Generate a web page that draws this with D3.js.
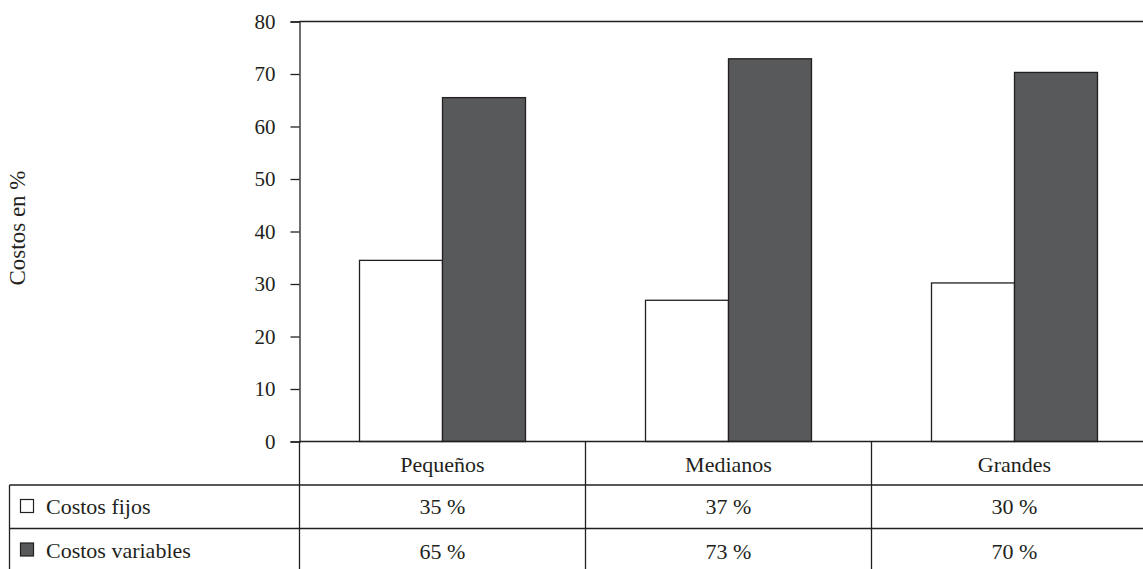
<!DOCTYPE html>
<html>
<head>
<meta charset="utf-8">
<script src="https://cdn.jsdelivr.net/npm/d3@7"></script>
<style>
  body { margin: 0; background: #fff; overflow: hidden; }
  svg text { font-family: "Liberation Serif", "DejaVu Serif", serif; fill: #231f20; }
</style>
</head>
<body>
<div id="chart"></div>
<script>
// data
var categories = ["Pequeños", "Medianos", "Grandes"];
var seriesNames = ["Costos fijos", "Costos variables"];
var costosFijos = [34.5, 26.9, 30.2];
var costosVariables = [65.5, 72.9, 70.3];
var tablaFijos = ["35 %", "37 %", "30 %"];
var tablaVariables = ["65 %", "73 %", "70 %"];
var yTicks = [0, 10, 20, 30, 40, 50, 60, 70, 80];

var width = 1143, height = 569;
var ink = "#231f20", darkFill = "#58595b";

var svg = d3.select("#chart")
    .append("svg")
    .attr("width", width)
    .attr("height", height);

var plotLeft = 299.5, colWidth = 286;
var plotTop = 21.5, plotBottom = 441.5;
var rowH = 43.5;

var x0 = d3.scaleBand()
    .domain(categories)
    .range([plotLeft, plotLeft + colWidth * categories.length]);

var x1 = d3.scaleBand()
    .domain(seriesNames)
    .range([0, x0.bandwidth()])
    .paddingOuter(0.723);

var y = d3.scaleLinear()
    .domain([0, 80])
    .range([plotBottom, plotTop]);

// bars
var rows = categories.map(function (c, i) {
    return { cat: c, values: [costosFijos[i], costosVariables[i]] };
});

var groups = svg.append("g").selectAll("g")
    .data(rows)
    .enter().append("g")
    .attr("transform", function (d) { return "translate(" + x0(d.cat) + ",0)"; });

groups.selectAll("rect")
    .data(function (d) { return d.values.map(function (v, i) { return { name: seriesNames[i], v: v }; }); })
    .enter().append("rect")
    .attr("x", function (d) { return x1(d.name); })
    .attr("width", x1.bandwidth())
    .attr("y", function (d) { return y(d.v); })
    .attr("height", function (d) { return y(0) - y(d.v); })
    .attr("fill", function (d) { return d.name === seriesNames[0] ? "#fff" : darkFill; })
    .attr("stroke", ink)
    .attr("stroke-width", 1.3);

// y axis
var yAxis = svg.append("g")
    .attr("transform", "translate(" + plotLeft + ",0)")
    .call(d3.axisLeft(y).tickValues(yTicks).tickSize(9).tickPadding(15));
yAxis.select(".domain").attr("stroke", ink).attr("stroke-width", 1.3);
yAxis.selectAll(".tick line").attr("stroke", ink).attr("stroke-width", 1.3);
yAxis.selectAll(".tick text")
    .attr("font-size", 21)
    .attr("font-family", null)
    .attr("fill", ink);

// top line and baseline across the plot
svg.append("line")
    .attr("x1", plotLeft).attr("x2", width)
    .attr("y1", y(80)).attr("y2", y(80))
    .attr("stroke", ink).attr("stroke-width", 1.3);
svg.append("line")
    .attr("x1", plotLeft).attr("x2", width)
    .attr("y1", y(0)).attr("y2", y(0))
    .attr("stroke", ink).attr("stroke-width", 1.3);

svg.append("text")
    .attr("transform", "translate(25,228) rotate(-90)")
    .attr("text-anchor", "middle")
    .attr("font-size", 23)
    .text("Costos en %");

// data table below the plot
var tableLeft = 9.5;
var r1 = plotBottom + rowH, r2 = plotBottom + 2 * rowH;

[r1, r2].forEach(function (ry) {
    svg.append("line")
        .attr("x1", tableLeft).attr("x2", width)
        .attr("y1", ry).attr("y2", ry)
        .attr("stroke", ink).attr("stroke-width", 1.3);
});
svg.append("line")
    .attr("x1", tableLeft).attr("x2", tableLeft)
    .attr("y1", r1).attr("y2", height)
    .attr("stroke", ink).attr("stroke-width", 1.3);

svg.selectAll(".colsep")
    .data(categories)
    .enter().append("line")
    .attr("class", "colsep")
    .attr("x1", function (d) { return x0(d); })
    .attr("x2", function (d) { return x0(d); })
    .attr("y1", plotBottom).attr("y2", height)
    .attr("stroke", ink).attr("stroke-width", 1.3);

var mid = function (d) { return x0(d) + x0.bandwidth() / 2; };

svg.selectAll(".catlabel")
    .data(categories)
    .enter().append("text")
    .attr("class", "catlabel")
    .attr("x", mid)
    .attr("y", plotBottom + 30)
    .attr("text-anchor", "middle")
    .attr("font-size", 22)
    .text(function (d) { return d; });

svg.selectAll(".fijos")
    .data(categories)
    .enter().append("text")
    .attr("class", "fijos")
    .attr("x", mid)
    .attr("y", r1 + 29)
    .attr("text-anchor", "middle")
    .attr("font-size", 22)
    .text(function (d, i) { return tablaFijos[i]; });

svg.selectAll(".variables")
    .data(categories)
    .enter().append("text")
    .attr("class", "variables")
    .attr("x", mid)
    .attr("y", r2 + 30)
    .attr("text-anchor", "middle")
    .attr("font-size", 22)
    .text(function (d, i) { return tablaVariables[i]; });

// legend keys in the table rows
seriesNames.forEach(function (name, i) {
    var ry = plotBottom + (i + 1) * rowH;
    svg.append("rect")
        .attr("x", 20.5).attr("y", ry + 14.5)
        .attr("width", 13).attr("height", 13)
        .attr("fill", i === 0 ? "#fff" : darkFill)
        .attr("stroke", ink).attr("stroke-width", 1.2);
    svg.append("text")
        .attr("x", 46)
        .attr("y", ry + 29)
        .attr("font-size", 22)
        .text(name);
});
</script>
</body>
</html>
